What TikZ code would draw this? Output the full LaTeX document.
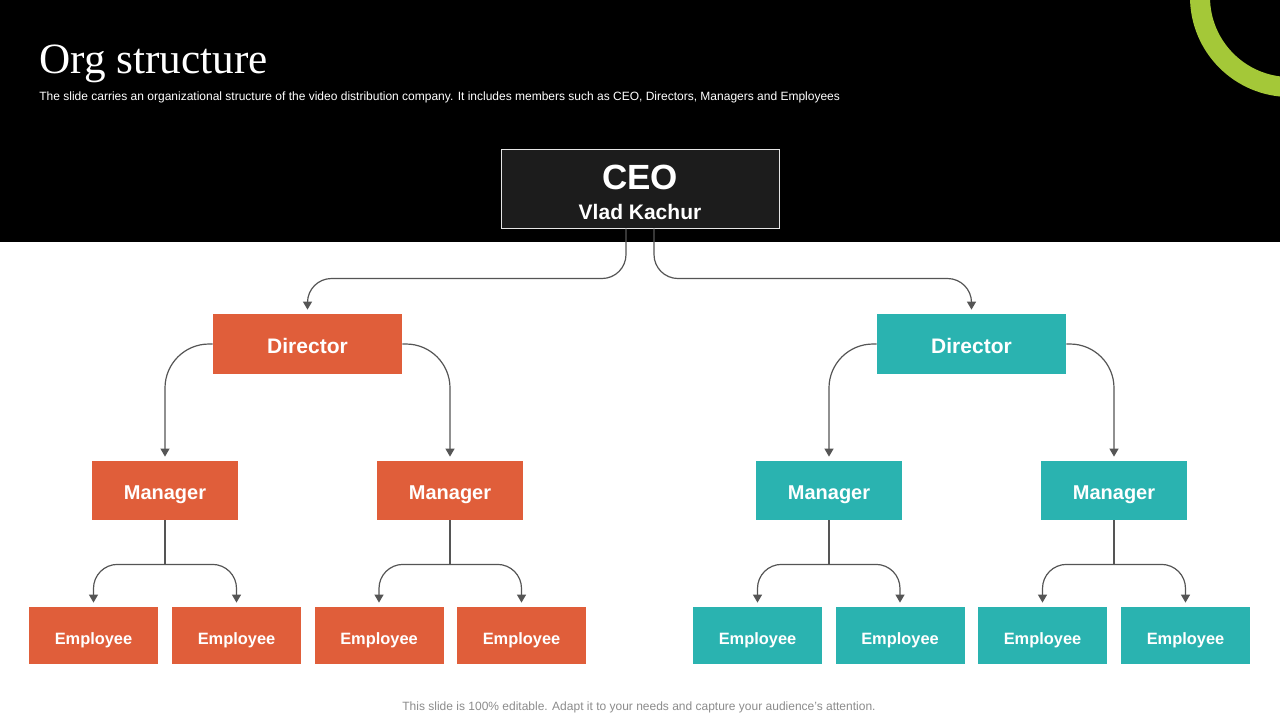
\documentclass[tikz,border=0pt]{standalone}
\usepackage{fontspec}
\setmainfont{Liberation Sans}
\newfontfamily\serifttl{Liberation Serif}
\usetikzlibrary{calc,arrows.meta}
\definecolor{orangebox}{RGB}{224,94,58}
\definecolor{tealbox}{RGB}{42,179,176}
\definecolor{limearc}{RGB}{164,200,56}
\definecolor{ceofill}{RGB}{28,28,28}
\definecolor{linegray}{RGB}{85,85,85}
\definecolor{footgray}{RGB}{140,140,140}
\tikzset{
  box/.style={inner sep=0pt, text=white, font=\bfseries, text height=0.9em, text depth=0pt},
  ceobox/.style={inner sep=0pt, fill=ceofill, draw=white!90!black, line width=0.5pt, minimum width=139pt, minimum height=39.5pt},
  dirbox/.style={box, minimum width=94.5pt, minimum height=30pt, font=\bfseries\fontsize{10.5}{12}\selectfont},
  manbox/.style={box, minimum width=73pt, minimum height=29.5pt, font=\bfseries\fontsize{10}{12}\selectfont},
  empbox/.style={box, minimum width=64.5pt, minimum height=28.5pt, font=\bfseries\fontsize{8.2}{10}\selectfont},
  conn/.style={draw=linegray, line width=0.6pt},
  arr/.style={conn, -{Triangle[length=4pt,width=4.5pt]}, shorten >=2pt},
}
\begin{document}
\begin{tikzpicture}[x=0.5pt,y=-0.5pt]
\useasboundingbox (0,0) rectangle (1280,720);
\clip (0,0) rectangle (1280,720);
\fill[white] (0,0) rectangle (1280,720);
% header
\fill[black] (0,0) rectangle (1280,242);
\coordinate (hb) at (0,242);
\draw[limearc, line width=10pt] (1290,-3) circle[radius=90];
\node[anchor=base west, text=white, font=\serifttl\fontsize{21.6}{26}\selectfont, inner sep=0pt] (title) at (39,73) {Org structure};
\node[anchor=base west, text=white, font=\fontsize{6.0}{7}\selectfont, inner sep=0pt] (subtitle) at (39,100) {The slide carries an organizational structure of the video distribution company. It includes members such as CEO, Directors, Managers and Employees};

% CEO
\node[ceobox] (ceo) at (640,188.5) {};
\node[text=white, font=\bfseries\fontsize{17.5}{20}\selectfont, inner sep=0pt] (ceot) at (640,177) {CEO};
\node[text=white, font=\bfseries\fontsize{10.5}{12}\selectfont, inner sep=0pt] (ceon) at (640,212) {Vlad Kachur};

% Directors
\node[dirbox, fill=orangebox] (d1) at (307.5,344) {Director};
\node[dirbox, fill=tealbox] (d2) at (971.5,344) {Director};

% Managers
\node[manbox, fill=orangebox] (m1) at (165,490.5) {Manager};
\node[manbox, fill=orangebox] (m2) at (450,490.5) {Manager};
\node[manbox, fill=tealbox] (m3) at (829,490.5) {Manager};
\node[manbox, fill=tealbox] (m4) at (1114,490.5) {Manager};

% Employees
\foreach \n/\x/\c in {1/93.5/orangebox,2/236.5/orangebox,3/379/orangebox,4/521.5/orangebox,5/757.5/tealbox,6/900/tealbox,7/1042.5/tealbox,8/1185.5/tealbox}{
  \node[empbox, fill=\c] (e\n) at (\x,635.5) {Employee};
}

% CEO -> Directors
\draw[arr, rounded corners=12pt] ($(ceo.south)+(-14,0)$ |- hb) -- ($(ceo.south)+(-14,50)$) -| (d1.north);
\draw[arr, rounded corners=12pt] ($(ceo.south)+(14,0)$ |- hb) -- ($(ceo.south)+(14,50)$) -| (d2.north);

% Directors -> Managers
\draw[arr, rounded corners=22pt] (d1.west) -| (m1.north);
\draw[arr, rounded corners=22pt] (d1.east) -| (m2.north);
\draw[arr, rounded corners=22pt] (d2.west) -| (m3.north);
\draw[arr, rounded corners=22pt] (d2.east) -| (m4.north);

% Managers -> Employees
\foreach \m/\a/\b in {1/1/2,2/3/4,3/5/6,4/7/8}{
  \coordinate (j\m) at ($(m\m.south)+(0,44)$);
  \draw[conn] (m\m.south) -- (j\m);
  \draw[arr, rounded corners=12pt] (j\m) -| (e\a.north);
  \draw[arr, rounded corners=12pt] (j\m) -| (e\b.north);
}

% footer
\node[text=footgray, font=\fontsize{6}{7}\selectfont, inner sep=0pt] (footer) at (639,707) {This slide is 100\% editable. Adapt it to your needs and capture your audience's attention.};
\end{tikzpicture}
\end{document}
